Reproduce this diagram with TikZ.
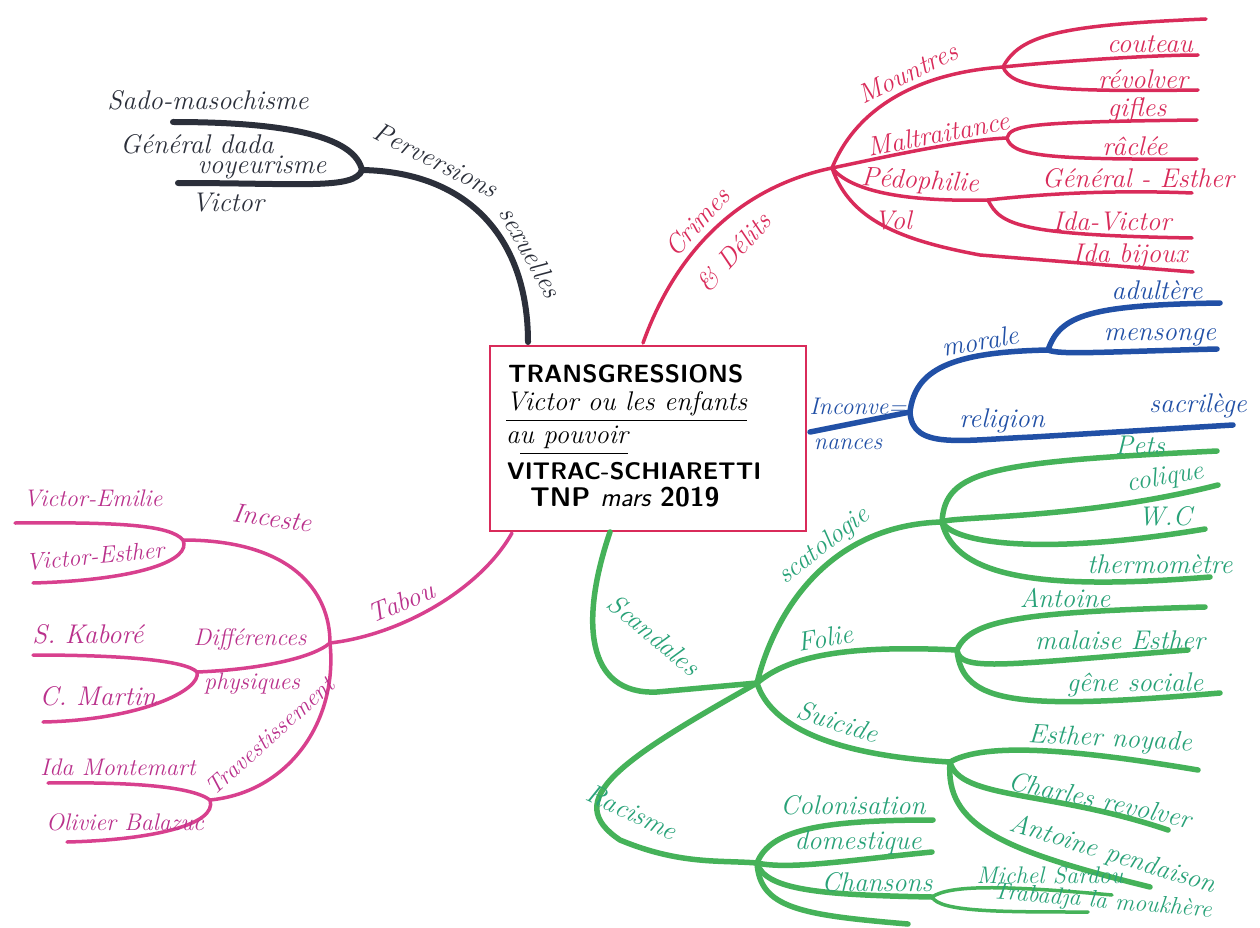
\documentclass[tikz,border=0pt]{standalone}
\usetikzlibrary{positioning}

\definecolor{ink}{HTML}{2B2F3A}
\definecolor{crime}{HTML}{D92B5A}
\definecolor{bleu}{HTML}{2150A6}
\definecolor{vert}{HTML}{45B259}
\definecolor{verttxt}{HTML}{28A278}
\definecolor{tabou}{HTML}{D8408E}
\definecolor{taboutxt}{HTML}{BA318C}

\tikzset{
  branche/.style={line width=5.5pt, line cap=round},
  brin/.style={line width=3.5pt, line cap=round},
  etiq/.style={font=\fontsize{27}{29}\selectfont\itshape, inner sep=0pt},
  petit/.style={font=\fontsize{24}{26}\selectfont\itshape},
  titre/.style={font=\fontsize{25}{27}\selectfont\sffamily\bfseries, inner sep=0pt, anchor=west},
  soustitre/.style={font=\fontsize{27}{29}\selectfont\itshape, inner sep=0pt, anchor=west},
}

\begin{document}
\begin{tikzpicture}[x=1pt,y=-1pt]
\useasboundingbox[fill=white] (0,0) rectangle (1260,928);

% centre
\node (centre) [draw=crime, line width=2pt, minimum width=316pt, minimum height=185pt, inner sep=0pt] at (648,438.5) {};
\node (t1) [titre] at (508,374) {TRANSGRESSIONS};
\node (t2) [soustitre] at (506,404) {Victor ou les enfants};
\node (t3) [soustitre] at (506,437) {au pouvoir};
\node (t4) [titre, font=\fontsize{24}{26}\selectfont\sffamily\bfseries] at (507,471) {VITRAC-SCHIARETTI};
\node (t5) [titre, font=\fontsize{27}{29}\selectfont\sffamily\bfseries] at (530,497) {TNP {\mdseries\itshape mars} 2019};
\draw[line width=1.2pt] (t2.south west) ++(0,4) coordinate (u1) -- (u1 -| t2.south east);
\draw[line width=1.2pt] (t3.south west) ++(14,5) coordinate (u2) -- (u2 -| t3.south east);

% Perversions sexuelles
\coordinate (pv0) at (528,342);
\coordinate (pvhub) at (362,170);
\coordinate (pvA) at (173,122);
\coordinate (pvB) at (178,183);
\draw[ink, line width=6pt, line cap=round] (pv0) .. controls (528,240) and (470,172) .. (pvhub);
\draw[ink, line width=6pt, line cap=round] (pvhub) .. controls (355,140) and (300,122) .. (pvA);
\draw[ink, line width=6pt, line cap=round] (pvhub) .. controls (355,190) and (300,183) .. (pvB);
\node (pvl1) [etiq, ink, rotate=-27] at (436,160) {Perversions};
\node (pvl2) [etiq, ink, rotate=-61] at (531,252) {sexuelles};
\node (sado) [etiq, ink] at (208,100) {Sado-masochisme};
\node (dada) [etiq, ink] at (197,144) {Général dada};
\node (voy) [etiq, ink] at (262,167) {voyeurisme};
\node (vic) [etiq, ink] at (228,203) {Victor};

% Crimes & Delits
\coordinate (cr0) at (643,343);
\coordinate (crhub) at (832,168);
\draw[crime, branche, line width=3.5pt] (cr0) .. controls (680,240) and (750,185) .. (crhub);
\node (crl1) [etiq, crime, rotate=48] at (697,222) {Crimes};
\node (crl2) [etiq, crime, rotate=48] at (734,252) {\& Délits};
% Meurtres
\coordinate (mo) at (1003,67);
\coordinate (mo1) at (1206,19);
\coordinate (mo2) at (1198,55);
\coordinate (mo3) at (1198,90);
\draw[crime, brin] (crhub) .. controls (860,100) and (930,72) .. (mo);
\draw[crime, brin] (mo) .. controls (1020,35) and (1060,25) .. (mo1);
\draw[crime, brin] (mo) .. controls (1050,62) and (1150,55) .. (mo2);
\draw[crime, brin] (mo) .. controls (1012,88) and (1050,92) .. (mo3);
\node (mol) [etiq, crime, rotate=26] at (908,73) {Mountres};
\node (mo2l) [etiq, crime] at (1150,44) {couteau};
\node (mo3l) [etiq, crime] at (1143,79) {révolver};
% Maltraitance
\coordinate (ma) at (1007,138);
\coordinate (ma1) at (1197,120);
\coordinate (ma2) at (1197,159);
\draw[crime, brin] (crhub) .. controls (880,158) and (960,140) .. (ma);
\draw[crime, brin] (ma) .. controls (1010,125) and (1030,122) .. (ma1);
\draw[crime, brin] (ma) .. controls (1012,155) and (1040,160) .. (ma2);
\node (mal) [etiq, crime, rotate=11] at (938,134) {Maltraitance};
\node (ma1l) [etiq, crime] at (1137,110) {gifles};
\node (ma2l) [etiq, crime] at (1135,146) {râclée};
% Pedophilie
\coordinate (pe) at (988,200);
\coordinate (pe1) at (1192,193);
\coordinate (pe2) at (1192,238);
\draw[crime, brin] (crhub) .. controls (850,190) and (900,202) .. (pe);
\draw[crime, brin] (pe) .. controls (1050,193) and (1120,190) .. (pe1);
\draw[crime, brin] (pe) .. controls (1000,225) and (1020,235) .. (pe2);
\node (pel) [etiq, crime, rotate=-3] at (920,182) {Pédophilie};
\node (pe1l) [etiq, crime] at (1138,178) {Général - Esther};
\node (pe2l) [etiq, crime] at (1112,221) {Ida-Victor};
% Vol
\coordinate (vo) at (980,255);
\coordinate (vo1) at (1193,272);
\draw[crime, brin] (crhub) .. controls (850,220) and (900,240) .. (vo) -- (vo1);
\node (vol) [etiq, crime] at (893,220) {Vol};
\node (vo1l) [etiq, crime] at (1130,256) {Ida bijoux};

% Inconvenances
\coordinate (in0) at (810,432);
\coordinate (inhub) at (910,412);
\coordinate (mr) at (1048,350);
\coordinate (mr1) at (1220,303);
\coordinate (mr2) at (1217,349);
\coordinate (re1) at (1233,425);
\draw[bleu, branche] (in0) -- (inhub);
\draw[bleu, branche] (inhub) .. controls (915,370) and (950,352) .. (mr);
\draw[bleu, branche] (mr) .. controls (1060,315) and (1090,305) .. (mr1);
\draw[bleu, branche] (mr) .. controls (1060,355) and (1100,352) .. (mr2);
\draw[bleu, branche] (inhub) .. controls (912,450) and (960,440) .. (1033,437) -- (re1);
\node (inl1) [etiq, bleu, petit] at (858,406) {Inconve=};
\node (inl2) [etiq, bleu, petit] at (848,444) {nances};
\node (mrl) [etiq, bleu, rotate=10] at (980,341) {morale};
\node (mr1l) [etiq, bleu] at (1157,290) {adultère};
\node (mr2l) [etiq, bleu] at (1160,337) {mensonge};
\node (rel) [etiq, bleu] at (1002,421) {religion};
\node (re1l) [etiq, bleu] at (1198,406) {sacrilège};

% Scandales
\coordinate (sc0) at (610,532);
\coordinate (schub) at (757,683);
\draw[vert, branche] (sc0) .. controls (580,620) and (585,695) .. (657,692) -- (schub);
\node (scl) [etiq, verttxt, rotate=-40] at (654,635) {Scandales};
% scatologie
\coordinate (sa) at (942,522);
\coordinate (sa1) at (1217,451);
\coordinate (sa2) at (1218,485);
\coordinate (sa3) at (1205,529);
\coordinate (sa4) at (1210,577);
\draw[vert, branche] (schub) .. controls (775,610) and (830,525) .. (sa);
\draw[vert, branche] (sa) .. controls (945,470) and (990,462) .. (sa1);
\draw[vert, branche] (sa) .. controls (950,516) and (1080,520) .. (sa2);
\draw[vert, branche] (sa) .. controls (955,545) and (1050,555) .. (sa3);
\draw[vert, branche] (sa) .. controls (955,580) and (1050,590) .. (sa4);
\node (sal) [etiq, verttxt, rotate=38] at (824,546) {scatologie};
\node (sa1l) [etiq, verttxt] at (1140,445) {Pets};
\node (sa2l) [etiq, verttxt, rotate=10] at (1165,478) {colique};
\node (sa3l) [etiq, verttxt] at (1165,516) {W.C};
\node (sa4l) [etiq, verttxt] at (1160,564) {thermomètre};
% Folie
\coordinate (fo) at (957,650);
\coordinate (fo1) at (1205,607);
\coordinate (fo2) at (1188,650);
\coordinate (fo3) at (1220,693);
\draw[vert, branche] (schub) .. controls (790,655) and (850,645) .. (fo);
\draw[vert, branche] (fo) .. controls (970,620) and (1020,612) .. (fo1);
\draw[vert, branche] (fo) .. controls (960,672) and (1000,665) .. (fo2);
\draw[vert, branche] (fo) .. controls (962,705) and (1020,710) .. (fo3);
\node (fol) [etiq, verttxt, rotate=10] at (825,638) {Folie};
\node (fo1l) [etiq, verttxt] at (1065,598) {Antoine};
\node (fo2l) [etiq, verttxt] at (1120,640) {malaise Esther};
\node (fo3l) [etiq, verttxt] at (1135,685) {gêne sociale};
% Suicide
\coordinate (su) at (950,762);
\coordinate (su1) at (1198,770);
\coordinate (su2) at (1168,830);
\coordinate (su3) at (1150,887);
\draw[vert, branche] (schub) .. controls (770,725) and (830,755) .. (su);
\draw[vert, branche] (su) .. controls (980,745) and (1050,745) .. (su1);
\draw[vert, branche] (su) .. controls (960,800) and (1050,790) .. (su2);
\draw[vert, branche] (su) .. controls (945,825) and (1000,850) .. (su3);
\node (sul) [etiq, verttxt, rotate=-18] at (838,722) {Suicide};
\node (su1l) [etiq, verttxt, rotate=-3] at (1110,740) {Esther noyade};
\node (su2l) [etiq, verttxt, rotate=-12] at (1100,800) {Charles revolver};
\node (su3l) [etiq, verttxt, rotate=-17] at (1113,855) {Antoine pendaison};
% Racisme
\coordinate (ra) at (757,863);
\coordinate (ra1) at (933,820);
\coordinate (ra2) at (932,852);
\coordinate (ch) at (932,897);
\coordinate (ra4) at (908,924);
\coordinate (ch1) at (1112,895);
\coordinate (ch2) at (1088,912);
\draw[vert, branche] (schub) .. controls (620,760) and (560,800) .. (620,840) .. controls (680,865) and (720,860) .. (ra);
\draw[vert, branche] (ra) .. controls (770,830) and (820,820) .. (ra1);
\draw[vert, branche] (ra) .. controls (790,870) and (850,860) .. (ra2);
\draw[vert, branche] (ra) .. controls (765,890) and (820,895) .. (ch);
\draw[vert, branche] (ra) .. controls (760,908) and (800,915) .. (ra4);
\draw[vert, brin] (ch) .. controls (950,885) and (1000,885) .. (ch1);
\draw[vert, brin] (ch) .. controls (940,912) and (1000,912) .. (ch2);
\node (ral) [etiq, verttxt, rotate=-25] at (632,812) {Racisme};
\node (ra1l) [etiq, verttxt] at (853,805) {Colonisation};
\node (ra2l) [etiq, verttxt] at (858,843) {domestique};
\node (chl) [etiq, verttxt] at (877,882) {Chansons};
\node (ch1l) [etiq, verttxt, petit] at (1050,875) {Michel Sardou};
\node (ch2l) [etiq, verttxt, petit, rotate=-5] at (1102,902) {Trabadja la moukhère};

% Tabou
\coordinate (ta0) at (512,533);
\coordinate (tahub) at (330,643);
\draw[tabou, brin] (ta0) .. controls (480,590) and (400,635) .. (tahub);
\node (tal) [etiq, taboutxt, rotate=22] at (401,602) {Tabou};
% Inceste
\coordinate (ic) at (183,540);
\coordinate (ic1) at (15,523);
\coordinate (ic2) at (33,583);
\draw[tabou, brin] (tahub) .. controls (330,590) and (290,540) .. (ic);
\draw[tabou, brin] (ic) .. controls (170,525) and (120,522) .. (ic1);
\draw[tabou, brin] (ic) .. controls (192,560) and (140,580) .. (ic2);
\node (icl) [etiq, taboutxt, rotate=-8] at (272,518) {Inceste};
\node (ic1l) [etiq, taboutxt, petit] at (93,498) {Victor-Emilie};
\node (ic2l) [etiq, taboutxt, petit, rotate=5] at (95,556) {Victor-Esther};
% Differences physiques
\coordinate (di) at (197,672);
\coordinate (di1) at (33,655);
\coordinate (di2) at (43,722);
\draw[tabou, brin] (tahub) .. controls (310,660) and (250,670) .. (di);
\draw[tabou, brin] (di) .. controls (185,660) and (120,655) .. (di1);
\draw[tabou, brin] (di) .. controls (202,690) and (140,720) .. (di2);
\node (dil1) [etiq, taboutxt, petit] at (250,639) {Différences};
\node (dil2) [etiq, taboutxt, petit] at (252,684) {physiques};
\node (di1l) [etiq, taboutxt] at (88,634) {S. Kaboré};
\node (di2l) [etiq, taboutxt] at (98,696) {C. Martin};
% Travestissement
\coordinate (tr) at (210,800);
\coordinate (tr1) at (48,783);
\coordinate (tr2) at (67,842);
\draw[tabou, brin] (tahub) .. controls (338,720) and (290,792) .. (tr);
\draw[tabou, brin] (tr) .. controls (190,785) and (120,782) .. (tr1);
\draw[tabou, brin] (tr) .. controls (218,825) and (150,840) .. (tr2);
\node (trl) [etiq, taboutxt, petit, rotate=42] at (270,736) {Travestissement};
\node (tr1l) [etiq, taboutxt, petit] at (118,767) {Ida Montemart};
\node (tr2l) [etiq, taboutxt, petit] at (125,822) {Olivier Balazuc};
\end{tikzpicture}
\end{document}
